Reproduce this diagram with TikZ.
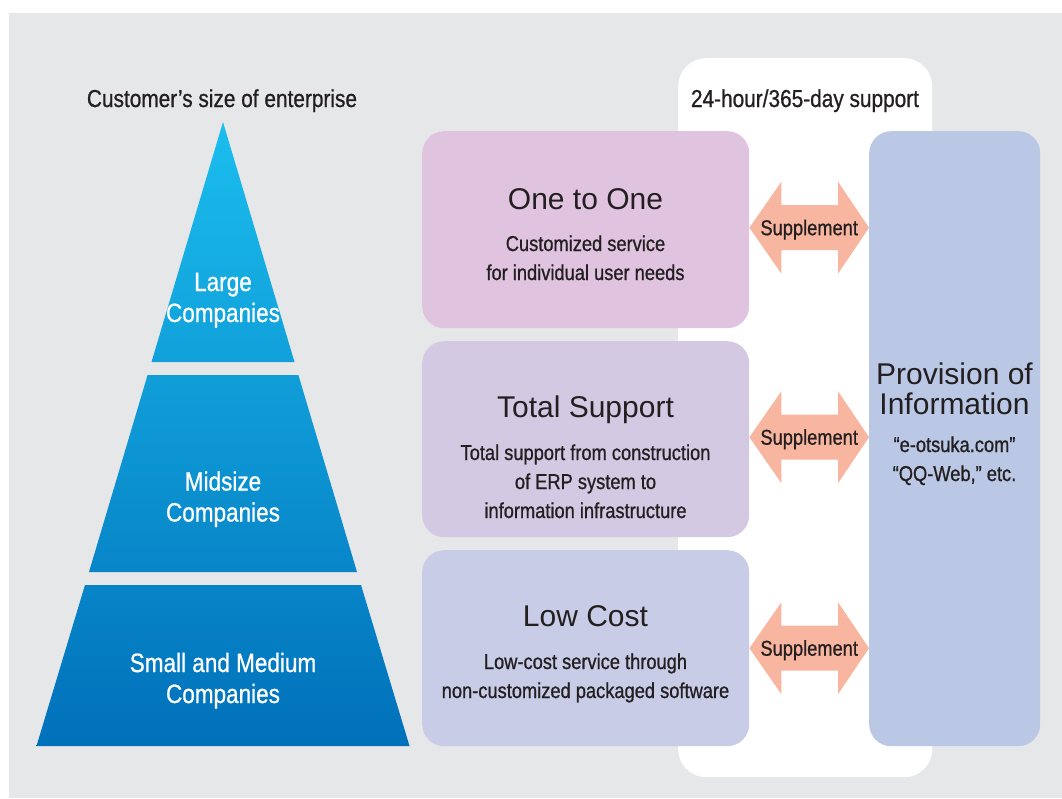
\documentclass[tikz,border=0pt]{standalone}
\usepackage{fontspec}
\setmainfont{Liberation Sans}
\newfontfamily\condf[FakeStretch=0.85,FakeBold=0.8]{Liberation Sans}
\usetikzlibrary{calc}
\definecolor{bggray}{HTML}{E6E7E8}
\definecolor{txt}{HTML}{231F20}
\definecolor{pyrtop}{HTML}{1BBEEE}
\definecolor{pyrbot}{HTML}{0070BA}
\definecolor{onec}{HTML}{DFC3DF}
\definecolor{totc}{HTML}{D4C9E3}
\definecolor{lowc}{HTML}{C9CCE7}
\definecolor{provc}{HTML}{BAC8E5}
\definecolor{arrc}{HTML}{F8B6A0}
\newcommand\pyrfont{\condf\fontsize{26.5}{31}\selectfont}
\newcommand\subfont{\condf\fontsize{21.5}{29}\selectfont}
\newcommand\headfont{\condf\fontsize{24.5}{29}\selectfont}
\newcommand\ttlfont{\fontsize{30}{30}\selectfont}
\newcommand\suppfont{\condf\fontsize{21.5}{26}\selectfont}
\newcommand\supparrow[2]{%
  \fill[arrc] let \p1=(#1), \p2=(#2) in
    (\x1,\y1) -- (\x1+32pt,\y1+46pt) -- (\x1+32pt,\y1+22.5pt) -- (\x2-31pt,\y1+22.5pt)
    -- (\x2-31pt,\y1+46pt) -- (\x2,\y1) -- (\x2-31pt,\y1-46pt) -- (\x2-31pt,\y1-22.5pt)
    -- (\x1+32pt,\y1-22.5pt) -- (\x1+32pt,\y1-46pt) -- cycle;}
\begin{document}
\begin{tikzpicture}[x=1pt,y=-1pt,
  lbl/.style={inner sep=0pt, anchor=base, align=center, text=txt},
  wlbl/.style={inner sep=0pt, anchor=base, align=center, text=white},
  boxs/.style={draw=none, rounded corners=22pt, anchor=north west, inner sep=0pt,
               minimum width=327pt, minimum height=196pt}]
\useasboundingbox (0,0) rectangle (1062,798);
\fill[white] (0,0) rectangle (1062,798);
\fill[bggray] (9,13) rectangle (1062,798);

% pyramid
\begin{scope}
\clip (223,122) -- (294.5,362) -- (151.5,362) -- cycle
      (147.6,375) -- (298.4,375) -- (357,572) -- (89,572) -- cycle
      (85,585) -- (361,585) -- (409.5,746) -- (36.5,746) -- cycle;
\shade[top color=pyrtop, bottom color=pyrbot] (30,122) rectangle (420,746);
\end{scope}
% multi-line nodes: base anchor = baseline of last line
\node[wlbl, font=\pyrfont] (large) at (223,322) {Large\\Companies};
\node[wlbl, font=\pyrfont] (mid) at (223,521.5) {Midsize\\Companies};
\node[wlbl, font=\pyrfont] (small) at (223,703) {Small and Medium\\Companies};
\node[lbl, font=\headfont] (cust) at (222,107) {Customer’s size of enterprise};

% support panel
\node[fill=white, rounded corners=28pt, anchor=north west, inner sep=0pt,
      minimum width=254pt, minimum height=719pt] (panel) at (678,58) {};
\node[lbl, font=\headfont] (sup24) at (805,107) {24-hour/365-day support};

% boxes
\node[boxs, fill=onec, minimum height=197pt] (one) at (422,131) {};
\node[boxs, fill=totc] (tot) at (422,341) {};
\node[boxs, fill=lowc] (low) at (422,550) {};
\node[boxs, fill=provc, minimum width=171pt, minimum height=615pt] (prov) at (869,131) {};

\node[lbl, font=\ttlfont] (onet) at (585.5,209) {One to One};
\node[lbl, font=\subfont] (ones) at (585.5,280) {Customized service\\for individual user needs};
\node[lbl, font=\ttlfont] (tott) at (585.5,417) {Total Support};
\node[lbl, font=\subfont] (tots) at (585.5,518) {Total support from construction\\of ERP system to\\information infrastructure};
\node[lbl, font=\ttlfont] (lowt) at (585.5,626) {Low Cost};
\node[lbl, font=\subfont] (lows) at (585.5,698) {Low-cost service through\\non-customized packaged software};
\node[lbl, font=\ttlfont] (provt) at (954.5,414) {Provision of\\Information};
\node[lbl, font=\subfont] (provs) at (954.5,481) {“e-otsuka.com”\\“QQ-Web,” etc.};

% supplement arrows
\coordinate (a1l) at ([yshift=2pt]one.east);
\coordinate (a1r) at (a1l -| prov.west);
\coordinate (a2l) at ([yshift=2pt]tot.east);
\coordinate (a2r) at (a2l -| prov.west);
\coordinate (a3l) at (low.east);
\coordinate (a3r) at (a3l -| prov.west);
\supparrow{a1l}{a1r}
\supparrow{a2l}{a2r}
\supparrow{a3l}{a3r}
\node[lbl, font=\suppfont] (s1) at ($(a1l)!0.5!(a1r)+(0,7.5)$) {Supplement};
\node[lbl, font=\suppfont] (s2) at ($(a2l)!0.5!(a2r)+(0,7.5)$) {Supplement};
\node[lbl, font=\suppfont] (s3) at ($(a3l)!0.5!(a3r)+(0,7.5)$) {Supplement};
\end{tikzpicture}
\end{document}
